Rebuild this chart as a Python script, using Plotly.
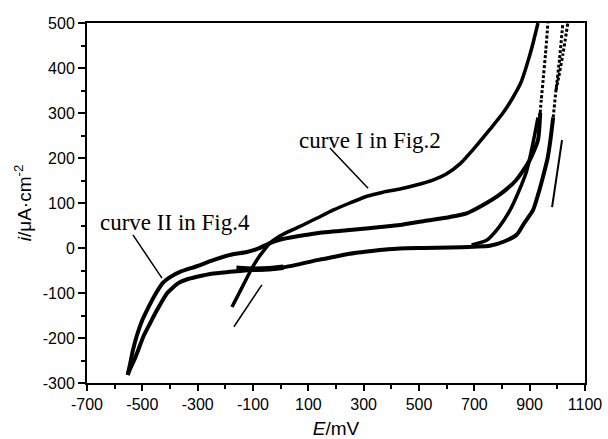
import plotly.graph_objects as go

# ---------------- data ----------------
# curve I (Fig.2) forward sweep
c1_fwd_E = [-176, -160, -140, -120, -100, -80, -60, -39, -10, 30, 70, 130, 189, 250, 312, 370,
            431, 490, 550, 600, 650, 700, 757, 800, 840, 870, 890, 910, 930]
c1_fwd_i = [-131, -112, -88, -64, -41, -21, -5, 11, 24, 37, 48, 66, 84, 100, 115, 124,
            131, 140, 151, 165, 188, 222, 264, 297, 335, 370, 407, 450, 500]

# curve II (Fig.4) forward sweep, solid part
c2_fwd_E = [-553, -545, -534, -520, -500, -483, -455, -425, -395, -364, -300, -244, -180, -122,
            -80, -39, 0, 60, 131, 250, 370, 431, 520, 612, 672, 730, 790, 850, 900, 930, 938]
c2_fwd_i = [-282, -260, -227, -195, -160, -138, -105, -77, -63, -53, -40, -27, -15, -9,
            -1, 11, 19, 26, 33, 40, 47, 51, 60, 69, 77, 95, 118, 150, 195, 240, 300]
# curve II forward, sparse (dotted) part
c2_dot_E = [938, 942, 948, 957, 966]
c2_dot_i = [300, 330, 369, 430, 500]

# steep branch rising from the lower curve
br_E = [690, 746, 790, 829, 860, 890, 912, 930]
br_i = [7, 18, 47, 84, 125, 173, 233, 290]

# return sweeps, sparse (dotted) parts near the top
r1_dot_E = [985, 995, 1008, 1020]
r1_dot_i = [290, 350, 420, 500]
r2_dot_E = [995, 1005, 1020, 1038]
r2_dot_i = [350, 380, 430, 500]

# return sweep, lower curve down to the cathodic branch
ret_E = [985, 975, 965, 948, 930, 912, 880, 854, 810, 756, 700, 612, 520, 431, 370, 312, 250,
         190, 131, 60, 0, -60, -111, -183, -250, -303, -340, -370, -410, -447, -470, -495,
         -515, -530, -545, -553]
ret_i = [290, 240, 200, 158, 118, 84, 55, 30, 15, 5, 3, 1, 0, -1, -4, -8, -13,
         -20, -27, -37, -44, -47, -49, -53, -57, -64, -70, -78, -100, -138, -165, -195,
         -227, -250, -270, -282]

# end of curve I return (overlapping the lower curve)
r1_tail_E = [10, -40, -100, -160]
r1_tail_i = [-43, -46, -47, -45]

# tick values
x_ticks = [-700, -500, -300, -100, 100, 300, 500, 700, 900, 1100]
y_ticks = [-300, -200, -100, 0, 100, 200, 300, 400, 500]

# label texts and pointer lines (E0, i0, E1, i1)
label_texts = ["curve I in Fig.2", "curve II in Fig.4"]
label_E = [59, -660]
label_i = [240, 56]
pointers = [(178, 222, 316, 133), (-534, 29, -429, -67), (-169, -175, -68, -82), (981, 91, 1017, 240)]
pointer_w = [1.5, 1.5, 1.5, 2]

# ---------------- figure ----------------
fig = go.Figure()
black = "black"

def add(E, I, width, dash="solid"):
    fig.add_trace(go.Scatter(x=E, y=I, mode="lines",
                             line=dict(color=black, width=width, dash=dash, shape="spline", smoothing=0.6),
                             showlegend=False, hoverinfo="skip"))

add(c1_fwd_E, c1_fwd_i, 3.5)
add(c2_fwd_E, c2_fwd_i, 4)
add(c2_dot_E, c2_dot_i, 3, "3px,2px")
add(br_E, br_i, 3.5)
add(r1_dot_E, r1_dot_i, 3, "3px,2px")
add(r2_dot_E, r2_dot_i, 3, "3px,2px")
add(ret_E, ret_i, 4)
add(r1_tail_E, r1_tail_i, 5.5)

serif = "Liberation Serif"
ann = [dict(x=e, y=i, xref="x", yref="y", text=t, showarrow=False, xanchor="left", yanchor="middle",
            font=dict(family=serif, size=23, color=black))
       for t, e, i in zip(label_texts, label_E, label_i)]
shapes = [dict(type="line", xref="x", yref="y", x0=p[0], y0=p[1], x1=p[2], y1=p[3],
               line=dict(color=black, width=w))
          for p, w in zip(pointers, pointer_w)]

fig.update_layout(
    template="none",
    width=608, height=439,
    margin=dict(l=87, r=23, t=23, b=56, autoexpand=False),
    paper_bgcolor="white", plot_bgcolor="white",
    annotations=ann, shapes=shapes,
    font=dict(family="Liberation Sans", color=black),
    hovermode=False,
)
fig.update_xaxes(
    range=[-700, 1100], tickmode="array", tickvals=x_ticks, ticktext=[str(v) for v in x_ticks],
    ticks="outside", ticklen=6, tickwidth=2, tickcolor=black, automargin=False,
    minor=dict(dtick=100, tick0=-700, ticks="outside", ticklen=4, tickwidth=1.5, tickcolor=black),
    showline=True, linewidth=2, linecolor=black, mirror=True, showgrid=False, zeroline=False,
    tickfont=dict(size=16, family="Liberation Sans", color=black),
    title=dict(text="<i>E</i>/mV", font=dict(size=19, family="Liberation Sans", color=black), standoff=15),
)
fig.update_yaxes(
    range=[-300, 500], tickmode="array", tickvals=y_ticks, ticktext=[str(v) for v in y_ticks],
    ticks="outside", ticklen=7, tickwidth=2, tickcolor=black, automargin=False,
    minor=dict(dtick=50, tick0=-300, ticks="outside", ticklen=4, tickwidth=1.5, tickcolor=black),
    showline=True, linewidth=2, linecolor=black, mirror=True, showgrid=False, zeroline=False,
    tickfont=dict(size=16, family="Liberation Sans", color=black),
    title=dict(text="<i>i</i>/μA·cm<sup>-2</sup>", font=dict(size=19, family="Liberation Sans", color=black), standoff=6),
)

fig.write_html("out.html", config={"displayModeBar": False},
               post_script="document.body.style.margin='0';document.body.style.padding='0';")
